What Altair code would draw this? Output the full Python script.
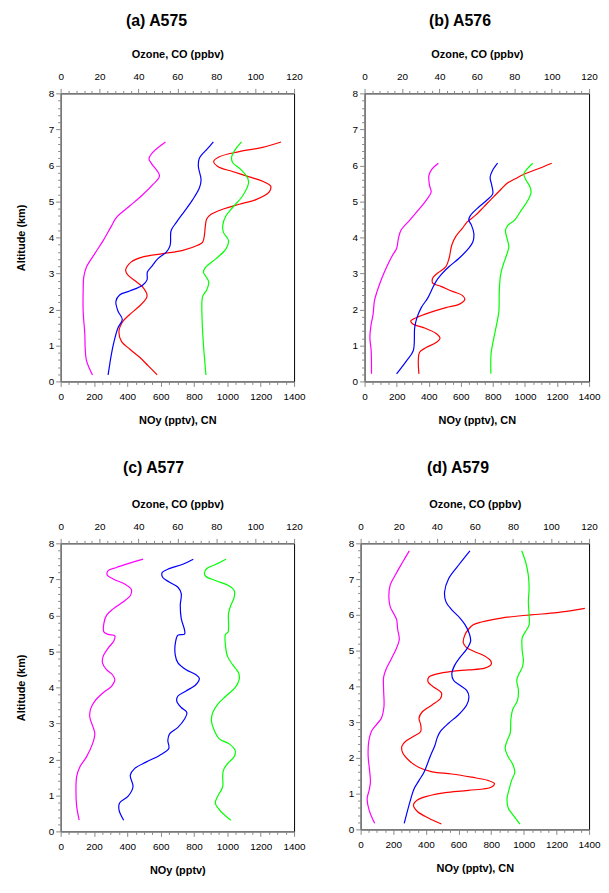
import altair as alt
import pandas as pd

FONT = "Liberation Sans"

SERIES = ["NOy", "CN", "Ozone", "CO"]
SERIES_COLORS = ["#FF00FF", "#FF0000", "#0000FF", "#00FF00"]

# ---------------- (a) A575 ----------------
A575_NOY_ALT = [6.65, 6.35, 6.18, 6.05, 5.71, 5.47, 5.15, 4.87, 4.55, 4.32, 3.91, 3.55, 3.18, 2.91, 2.5, 1.95, 1.31, 0.94, 0.58, 0.18]
A575_NOY = [629, 550, 530, 545, 593, 554, 484, 414, 334, 305, 255, 205, 155, 139, 135, 135, 145, 147, 155, 191]
A575_O3_ALT = [6.65, 6.47, 6.2, 5.97, 5.6, 5.37, 5.05, 4.73, 4.41, 4.19, 3.78, 3.59, 3.41, 3.18, 3.04, 2.82, 2.68, 2.51, 2.4, 2.22, 1.95, 1.72, 1.49, 1.12, 0.76, 0.18]
A575_O3 = [78.5, 75.6, 71.3, 70.8, 72.2, 71.3, 67.9, 63.7, 59.4, 56.8, 56.3, 54.3, 50.0, 46.6, 44.6, 44.4, 42.3, 35.5, 30.3, 28.4, 29.5, 31.7, 29.5, 27.5, 26.1, 24.4]
A575_CO_ALT = [6.65, 6.43, 6.24, 6.08, 5.88, 5.65, 5.51, 5.15, 4.83, 4.6, 4.32, 4.14, 3.91, 3.68, 3.41, 3.18, 3.04, 2.77, 2.54, 2.36, 1.76, 1.03, 0.18]
A575_CO = [93.0, 89.7, 87.9, 88.4, 92.7, 96.1, 96.6, 93.5, 88.4, 85.0, 83.3, 83.7, 86.3, 85.0, 79.9, 74.7, 73.4, 76.1, 75.1, 73.0, 72.7, 73.4, 74.7]
A575_CN_ALT = [6.65, 6.5, 6.38, 6.24, 6.11, 5.97, 5.83, 5.68, 5.56, 5.42, 5.26, 5.05, 4.92, 4.78, 4.64, 4.51, 4.32, 4.05, 3.87, 3.78, 3.64, 3.55, 3.46, 3.32, 3.09, 2.95, 2.77, 2.63, 2.4, 2.31, 2.08, 1.86, 1.67, 1.4, 1.12, 0.9, 0.67, 0.44, 0.18]
A575_CN = [1322, 1211, 1071, 952, 918, 942, 1031, 1131, 1211, 1260, 1250, 1171, 1071, 972, 902, 876, 868, 862, 852, 822, 733, 613, 494, 424, 390, 404, 454, 490, 518, 514, 470, 414, 374, 350, 364, 414, 474, 524, 579]

# ---------------- (b) A576 ----------------
A576_NOY_ALT = [6.06, 5.9, 5.72, 5.44, 5.26, 5.03, 4.75, 4.48, 4.2, 3.97, 3.7, 3.47, 3.19, 2.87, 2.5, 2.23, 1.86, 1.59, 1.22, 0.85, 0.21]
A576_NOY = [460, 421, 401, 405, 415, 384, 333, 282, 227, 211, 200, 170, 139, 108, 78, 61, 53, 41, 33, 41, 43]
A576_O3_ALT = [6.06, 5.85, 5.67, 5.44, 5.21, 5.03, 4.8, 4.61, 4.48, 4.34, 4.11, 3.88, 3.7, 3.42, 3.19, 2.96, 2.78, 2.6, 2.32, 2.05, 1.77, 1.5, 0.85, 0.58, 0.21]
A576_O3 = [71.1, 68.3, 67.1, 68.0, 68.5, 65.3, 60.1, 56.6, 55.7, 57.1, 58.4, 57.9, 55.7, 50.5, 45.2, 40.8, 38.2, 36.4, 33.8, 30.3, 28.0, 26.8, 26.0, 22.5, 17.1]
A576_CO_ALT = [6.06, 5.9, 5.76, 5.58, 5.44, 5.26, 5.03, 4.75, 4.48, 4.34, 4.2, 4.02, 3.74, 3.51, 3.24, 2.96, 2.5, 1.95, 1.59, 1.13, 0.76, 0.21]
A576_CO = [89.9, 86.9, 85.1, 86.4, 88.1, 89.0, 87.3, 83.7, 80.2, 76.7, 75.3, 75.9, 77.1, 75.9, 74.1, 72.7, 72.0, 71.8, 70.6, 68.8, 67.6, 67.5]
A576_CN_ALT = [6.06, 5.9, 5.76, 5.62, 5.51, 5.35, 5.17, 5.03, 4.84, 4.61, 4.43, 4.25, 4.02, 3.79, 3.42, 3.19, 3.01, 2.87, 2.73, 2.64, 2.5, 2.39, 2.28, 2.14, 2.05, 1.91, 1.77, 1.68, 1.59, 1.5, 1.33, 1.2, 1.08, 0.94, 0.81, 0.58, 0.21]
A576_CN = [1167, 1079, 997, 936, 891, 854, 814, 783, 742, 691, 640, 609, 568, 544, 527, 507, 456, 425, 425, 476, 548, 609, 625, 589, 507, 405, 323, 288, 303, 364, 446, 470, 446, 384, 343, 335, 339]

# ---------------- (c) A577 ----------------
A577_NOY_ALT = [7.56, 7.45, 7.33, 7.24, 7.12, 7.01, 6.87, 6.72, 6.55, 6.37, 6.18, 6.0, 5.77, 5.54, 5.47, 5.43, 5.29, 5.09, 4.86, 4.68, 4.49, 4.35, 4.22, 4.03, 3.85, 3.62, 3.39, 3.17, 2.89, 2.71, 2.43, 2.07, 1.79, 1.52, 1.06, 0.7, 0.31]
A577_NOY = [494, 414, 334, 285, 279, 315, 384, 424, 418, 374, 315, 275, 259, 259, 285, 325, 319, 285, 255, 251, 275, 311, 325, 305, 255, 205, 179, 175, 195, 205, 191, 155, 115, 96, 92, 96, 111]
A577_O3_ALT = [7.56, 7.42, 7.28, 7.19, 7.05, 6.92, 6.78, 6.6, 6.28, 5.91, 5.59, 5.48, 5.45, 5.27, 4.9, 4.68, 4.49, 4.35, 4.25, 4.08, 3.9, 3.76, 3.62, 3.44, 3.3, 3.12, 2.89, 2.71, 2.53, 2.3, 2.11, 1.93, 1.75, 1.56, 1.24, 0.97, 0.79, 0.6, 0.31]
A577_O3 = [68.2, 62.8, 55.1, 52.2, 52.5, 56.0, 60.3, 62.0, 61.5, 62.0, 63.7, 63.7, 60.3, 59.1, 58.9, 60.3, 64.5, 69.6, 71.3, 69.6, 64.5, 60.3, 59.7, 62.0, 64.9, 63.7, 60.3, 56.0, 55.1, 55.6, 50.8, 44.1, 38.1, 35.8, 37.2, 34.6, 30.3, 30.0, 32.4]
A577_CO_ALT = [7.56, 7.42, 7.3, 7.17, 7.08, 6.96, 6.84, 6.69, 6.5, 6.28, 6.05, 5.54, 5.47, 5.18, 4.86, 4.63, 4.4, 4.22, 3.99, 3.76, 3.53, 3.3, 3.07, 2.8, 2.57, 2.43, 2.25, 2.07, 1.88, 1.7, 1.52, 1.24, 0.97, 0.79, 0.6, 0.31]
A577_CO = [85.0, 79.9, 75.1, 73.9, 74.7, 79.9, 85.8, 89.2, 89.2, 87.5, 86.3, 86.1, 84.7, 84.7, 85.8, 88.4, 91.5, 91.8, 89.7, 85.0, 80.7, 78.2, 77.5, 79.0, 81.6, 86.7, 89.7, 89.2, 85.8, 83.7, 83.3, 83.3, 80.7, 79.5, 81.6, 87.5]

# ---------------- (d) A579 ----------------
A579_NOY_ALT = [7.79, 7.47, 7.15, 6.83, 6.5, 6.23, 6.0, 5.86, 5.59, 5.31, 5.04, 4.76, 4.49, 4.26, 3.89, 3.43, 3.11, 2.93, 2.74, 2.47, 2.06, 1.6, 1.32, 1.09, 0.86, 0.54, 0.17]
A579_NOY = [298, 257, 217, 181, 173, 181, 207, 221, 227, 237, 217, 187, 157, 141, 141, 143, 127, 97, 66, 50, 46, 56, 60, 52, 40, 52, 86]
A579_O3_ALT = [7.79, 7.38, 7.01, 6.64, 6.37, 6.14, 5.91, 5.72, 5.5, 5.27, 5.04, 4.81, 4.58, 4.35, 4.17, 4.03, 3.89, 3.71, 3.48, 3.2, 2.97, 2.74, 2.56, 2.33, 2.06, 1.6, 1.37, 1.14, 0.77, 0.17]
A579_O3 = [57.4, 51.3, 46.2, 44.1, 44.8, 47.9, 52.2, 54.9, 56.9, 57.8, 55.7, 52.2, 49.3, 47.9, 48.8, 52.2, 55.7, 56.9, 55.7, 51.3, 46.2, 41.9, 40.2, 38.9, 36.7, 33.3, 30.7, 28.1, 25.9, 22.9]
A579_CO_ALT = [7.79, 7.47, 7.1, 6.73, 6.37, 6.0, 5.72, 5.54, 5.36, 4.99, 4.72, 4.53, 4.35, 4.17, 3.89, 3.61, 3.34, 3.06, 2.7, 2.51, 2.28, 2.06, 1.83, 1.6, 1.37, 1.14, 0.86, 0.59, 0.36, 0.15]
A579_CO = [84.6, 86.7, 88.1, 88.5, 88.1, 88.5, 88.5, 86.7, 84.9, 84.9, 85.5, 84.9, 83.2, 82.0, 82.9, 82.4, 79.8, 78.9, 78.6, 77.2, 75.9, 77.2, 79.8, 81.0, 79.3, 78.1, 76.9, 77.6, 80.7, 83.7]
A579_CN_ALT = [6.18, 6.06, 6.0, 5.91, 5.8, 5.72, 5.59, 5.45, 5.22, 5.08, 4.97, 4.85, 4.72, 4.61, 4.51, 4.46, 4.42, 4.35, 4.26, 4.12, 3.96, 3.82, 3.66, 3.48, 3.29, 3.11, 2.93, 2.74, 2.61, 2.47, 2.33, 2.15, 1.92, 1.73, 1.61, 1.55, 1.46, 1.37, 1.28, 1.18, 1.09, 1.03, 0.94, 0.82, 0.68, 0.5, 0.31, 0.15]
A579_CN = [1374, 1203, 1042, 861, 740, 690, 660, 640, 629, 650, 700, 760, 796, 800, 760, 660, 559, 469, 418, 414, 454, 495, 489, 438, 378, 358, 368, 368, 328, 278, 253, 257, 298, 358, 438, 559, 680, 780, 820, 800, 660, 519, 418, 348, 324, 348, 418, 495]

# tick positions
BOTTOM_TICKS = list(range(0, 1401, 50))
TOP_TICKS = list(range(0, 121, 4))
Y_TICKS = [round(i * 0.2, 1) for i in range(41)]


def frame(series):
    rows = []
    for name, alts, vals in series:
        for i, (a, v) in enumerate(zip(alts, vals)):
            rows.append({"series": name, "alt": a, "value": v, "i": i})
    return pd.DataFrame(rows)


def dash(test):
    return {"condition": {"test": test, "value": [6, 0]}, "value": [3, 3]}


COLOR = alt.Color("series:N", scale=alt.Scale(domain=SERIES, range=SERIES_COLORS), legend=None)
MAJOR_B = "datum.value % 200 === 0"
MAJOR_T = "datum.value % 20 === 0"
MAJOR_Y = "abs(datum.value - round(datum.value)) < 0.01"


def y_enc(ytitle):
    kw = dict(
        values=Y_TICKS, labelExpr=f"{MAJOR_Y} ? '' + round(datum.value) : ''",
        tickDash=dash(MAJOR_Y), tickSize=5, labelPadding=2, labelOverlap=False,
        grid=False, orient="left",
    )
    if ytitle:
        axis = alt.Axis(title=ytitle, titlePadding=22, **kw)
    else:
        axis = alt.Axis(title=None, **kw)
    return alt.Y("alt:Q", scale=alt.Scale(domain=[0, 8], nice=False, zero=False), axis=axis)


def panel(title, dx, toff, width, height, bottom_series, top_series, ytitle, xtitle):
    bottom = alt.Chart(frame(bottom_series)).mark_line(
        strokeWidth=1.2, interpolate="catmull-rom"
    ).encode(
        x=alt.X("value:Q", scale=alt.Scale(domain=[0, 1400], nice=False),
                axis=alt.Axis(orient="bottom", values=BOTTOM_TICKS, format="d",
                              labelExpr=f"{MAJOR_B} ? datum.label : ''",
                              tickDash=dash(MAJOR_B), tickSize=5, labelPadding=5,
                              title=xtitle, titlePadding=13, labelOverlap=False,
                              labelFlush=False, grid=False)),
        y=y_enc(ytitle), color=COLOR, detail="series:N", order="i:Q",
    )
    top = alt.Chart(frame(top_series)).mark_line(
        strokeWidth=1.2, interpolate="catmull-rom"
    ).encode(
        x=alt.X("value:Q", scale=alt.Scale(domain=[0, 120], nice=False),
                axis=alt.Axis(orient="top", values=TOP_TICKS, format="d",
                              labelExpr=f"{MAJOR_T} ? datum.label : ''",
                              tickDash=dash(MAJOR_T), tickSize=5, labelPadding=7,
                              title="Ozone, CO (ppbv)", titlePadding=12, labelOverlap=False,
                              labelFlush=False, grid=False)),
        y=y_enc(ytitle), color=COLOR, detail="series:N", order="i:Q",
    )
    return alt.layer(bottom, top).resolve_scale(x="independent").properties(
        width=width, height=height,
        view=alt.ViewBackground(stroke="black", strokeWidth=1, fill="white"),
        title=alt.TitleParams(title, anchor="middle", frame="group", dx=dx, offset=toff,
                              font=FONT, fontSize=16, fontWeight="bold", color="black"),
    )


pa = panel("(a)  A575", -21, 20, 235, 290,
           [("NOy", A575_NOY_ALT, A575_NOY), ("CN", A575_CN_ALT, A575_CN)],
           [("Ozone", A575_O3_ALT, A575_O3), ("CO", A575_CO_ALT, A575_CO)],
           "Altitude (km)", "NOy (pptv), CN")
pb = panel("(b)  A576", -17, 20, 226, 290,
           [("NOy", A576_NOY_ALT, A576_NOY), ("CN", A576_CN_ALT, A576_CN)],
           [("Ozone", A576_O3_ALT, A576_O3), ("CO", A576_CO_ALT, A576_CO)],
           None, "NOy (pptv), CN")
pc = panel("(c)  A577", -24, 23, 235, 290,
           [("NOy", A577_NOY_ALT, A577_NOY)],
           [("Ozone", A577_O3_ALT, A577_O3), ("CO", A577_CO_ALT, A577_CO)],
           "Altitude (km)", "NOy (pptv)")
pd_ = panel("(d)  A579", -17, 23, 230, 288,
            [("NOy", A579_NOY_ALT, A579_NOY), ("CN", A579_CN_ALT, A579_CN)],
            [("Ozone", A579_O3_ALT, A579_O3), ("CO", A579_CO_ALT, A579_CO)],
            None, "NOy (pptv), CN")

row1 = alt.hconcat(pa, pb, spacing=45)
row2 = alt.hconcat(pc, pd_, spacing=41)

chart = alt.vconcat(row1, row2, spacing=33).properties(
    padding={"left": 6, "top": 1, "right": 0, "bottom": 0}
).configure_view(
    stroke="black", strokeWidth=1
).configure_axis(
    labelFont=FONT, labelFontSize=11, labelColor="black",
    titleFont=FONT, titleFontSize=13, titleFontWeight="bold", titleColor="black",
    domainColor="black", domainWidth=1.2, tickColor="black", tickWidth=1,
).configure(background="white")

chart.save("out.html", embed_options={"renderer": "svg", "actions": False})
